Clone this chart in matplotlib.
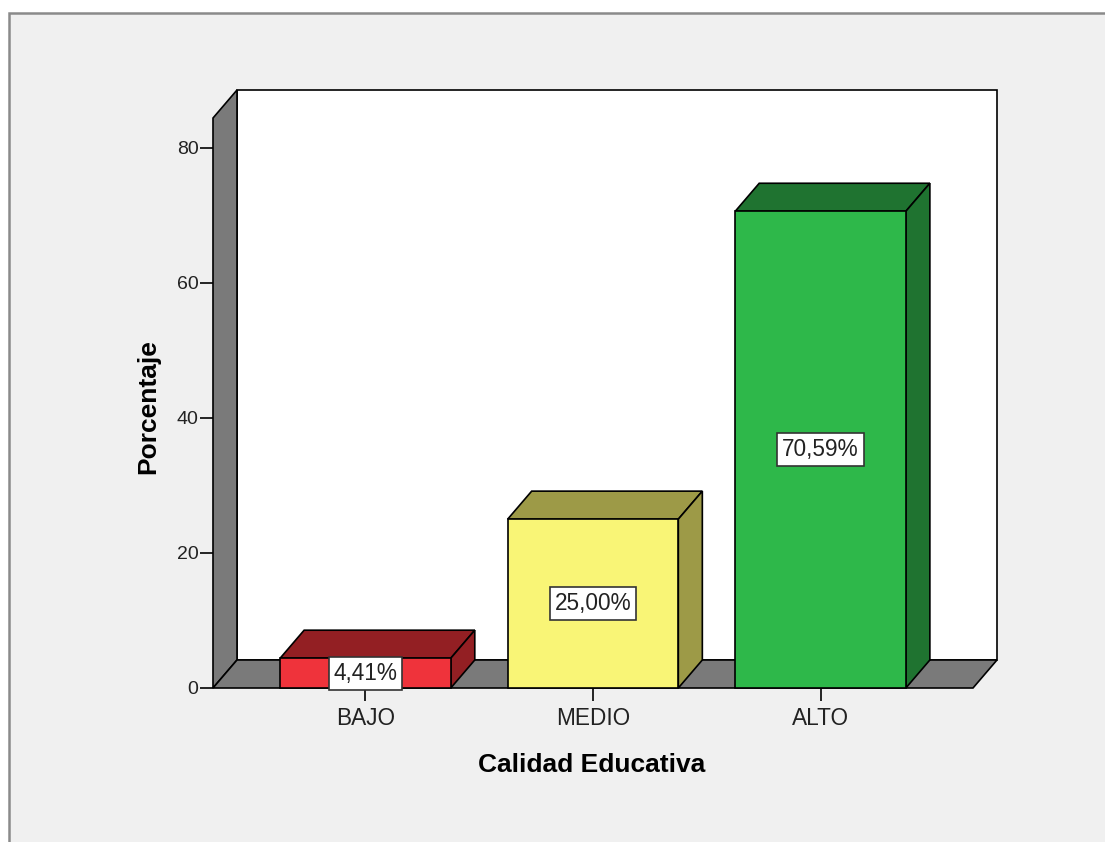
import matplotlib.pyplot as plt
from matplotlib.patches import Polygon, Rectangle

categorias = ["BAJO", "MEDIO", "ALTO"]
porcentajes = [4.41, 25.00, 70.59]
etiquetas = ["4,41%", "25,00%", "70,59%"]
y_ticks = [0, 20, 40, 60, 80]

frente = ["#ef333b", "#f9f576", "#2eb84a"]
oscuro = ["#931f23", "#9d9a47", "#1f7330"]
gris = "#7a7a7a"

plt.rcParams['font.family'] = ['Liberation Sans', 'DejaVu Sans']

W, H = 1105, 842
fig = plt.figure(figsize=(W / 100, H / 100), dpi=100, facecolor="white")

# fondo gris con borde (detras de los ejes)
fig.patches.append(Rectangle((9 / W, -0.1), 1.2, (H - 13) / H + 0.1, transform=fig.transFigure,
                             facecolor="#f0f0f0", edgecolor="#8a8a8a", linewidth=1.8, zorder=-1))

x0, x1 = -0.67, 2.67
ytop = 84.4
dx, dy = 0.1055, 4.15
ancho = 0.75

ax = fig.add_axes([213 / W, (H - 688) / H, (997 - 213) / W, (688 - 90) / H])
ax.set_xlim(x0, x1 + dx)
ax.set_ylim(0, ytop + dy)
ax.patch.set_alpha(0)
for s in ax.spines.values():
    s.set_visible(False)

ec = dict(edgecolor="black", linewidth=1.2, joinstyle="miter")
# pared del fondo, pared izquierda y piso
ax.add_patch(Polygon([(x0 + dx, dy), (x1 + dx, dy), (x1 + dx, ytop + dy), (x0 + dx, ytop + dy)],
                     facecolor="white", clip_on=False, **ec))
ax.add_patch(Polygon([(x0, 0), (x0 + dx, dy), (x0 + dx, ytop + dy), (x0, ytop)],
                     facecolor=gris, clip_on=False, **ec))
ax.add_patch(Polygon([(x0, 0), (x1, 0), (x1 + dx, dy), (x0 + dx, dy)],
                     facecolor=gris, clip_on=False, **ec))

for i, v in enumerate(porcentajes):
    a, b = i - ancho / 2, i + ancho / 2
    ax.add_patch(Polygon([(a, v), (b, v), (b + dx, v + dy), (a + dx, v + dy)],
                         facecolor=oscuro[i], clip_on=False, **ec))
    ax.add_patch(Polygon([(b, 0), (b + dx, dy), (b + dx, v + dy), (b, v)],
                         facecolor=oscuro[i], clip_on=False, **ec))
    ax.add_patch(Rectangle((a, 0), ancho, v, facecolor=frente[i], clip_on=False, **ec))
    ax.text(i, v / 2, etiquetas[i], ha="center", va="center", fontsize=16.3, color="#222222",
            bbox=dict(boxstyle="square,pad=0.22", facecolor="white", edgecolor="#333333", linewidth=1.2),
            zorder=5)

ax.set_yticks(y_ticks)
ax.set_yticklabels([str(t) for t in y_ticks])
ax.set_xticks(range(len(categorias)))
ax.set_xticklabels(categorias)
ax.tick_params(axis="both", length=9.5, width=1.2, color="black", labelcolor="#222222")
ax.tick_params(axis="y", pad=1, labelsize=14)
ax.tick_params(axis="x", pad=4.5, labelsize=16.3)

ax.set_ylabel("Porcentaje", fontsize=19, fontweight="bold")
ax.set_xlabel("Calidad Educativa", fontsize=19, fontweight="bold")
ax.xaxis.set_label_coords((592 - 213) / (997 - 213), -(765 - 688) / (688 - 90))
ax.yaxis.set_label_coords(-(213 - 148) / (997 - 213), (688 - 407) / (688 - 90))
ax.xaxis.label.set_va("center")
ax.yaxis.label.set_va("center")

fig.savefig("out.png", dpi=100, facecolor=fig.get_facecolor())
